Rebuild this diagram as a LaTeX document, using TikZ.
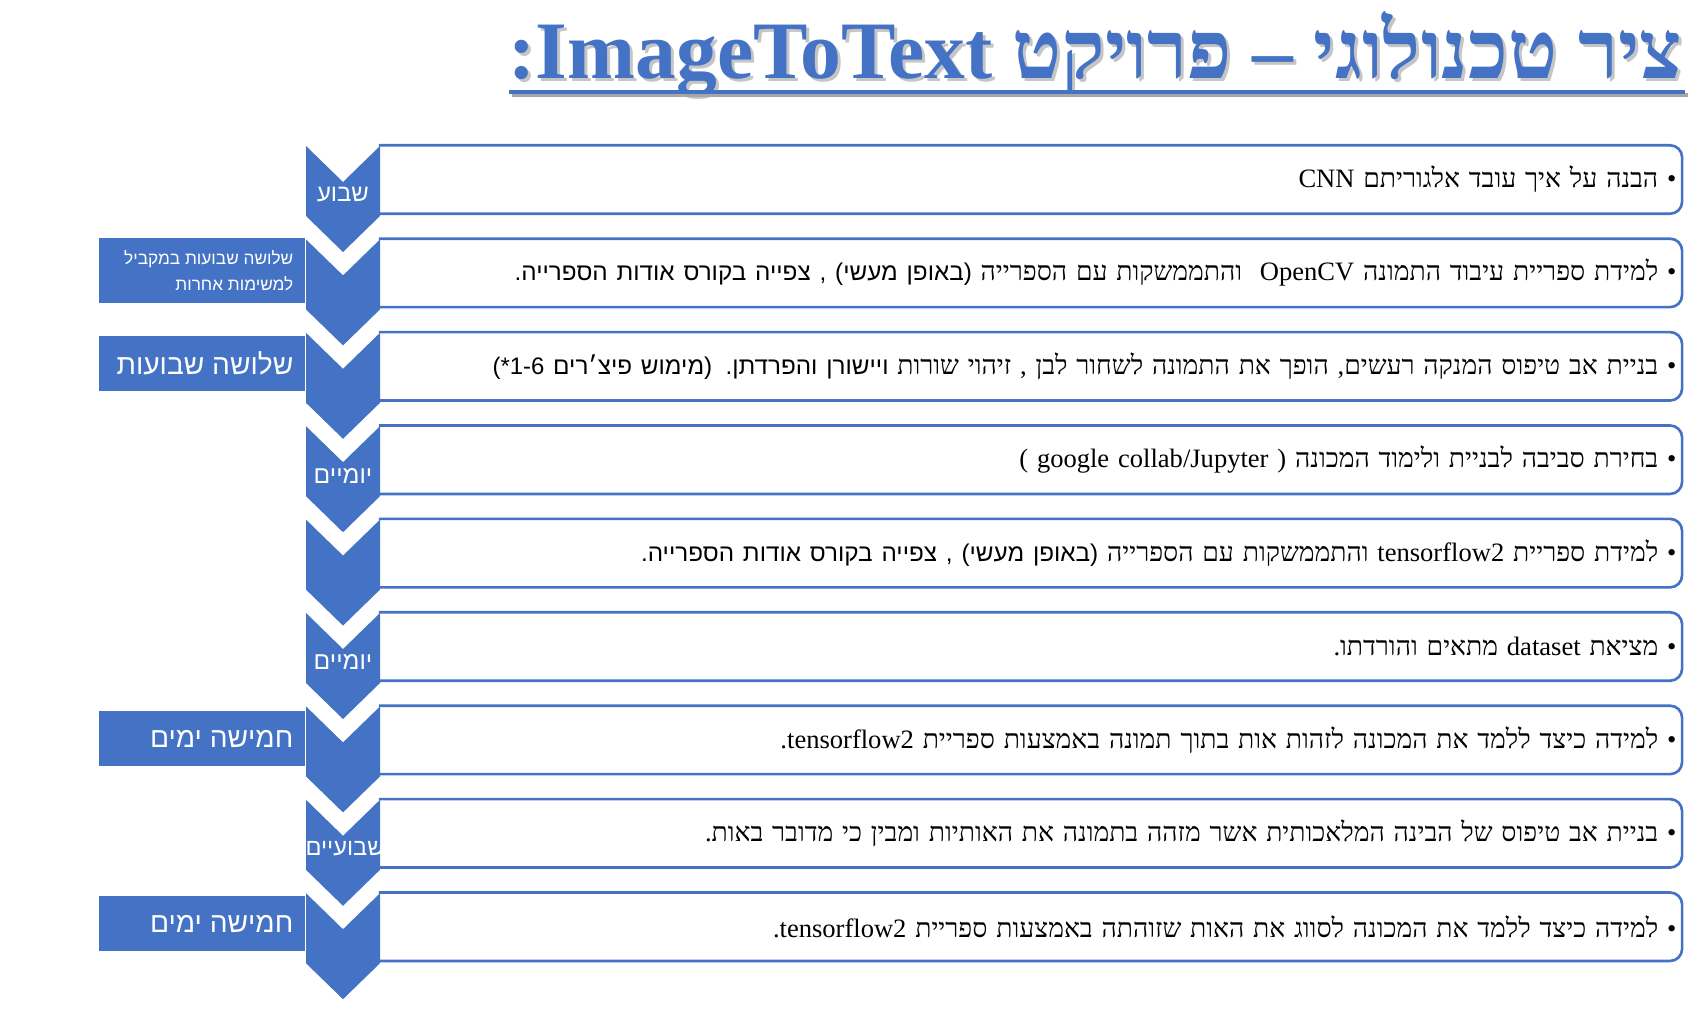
\documentclass[tikz,border=0pt]{standalone}
\usepackage{fontspec}
\setmainfont{Liberation Serif}
\newfontfamily\hebserif[Script=Hebrew]{Liberation Serif}
\newfontfamily\hebsans[Script=Hebrew]{Liberation Sans}
\newfontfamily\latinsans{Liberation Sans}
\usepackage{xcolor}
\usepackage{tikz}
\usetikzlibrary{positioning}
\TeXXeTstate=1
\definecolor{planblue}{RGB}{68,114,196}
\newcommand{\sanspart}{\hebsans\fontsize{6.9}{9}\selectfont}
\newcommand{\sidetext}[1]{\makebox[1.82cm][r]{\beginR #1\endR}}

\begin{document}
\begin{tikzpicture}[
    x=0.01cm, y=-0.01cm,
    rowbox/.style={
        minimum width=13.01cm,
        minimum height=0.67cm,
        text width=12.91cm,
        inner xsep=0.05cm,
        inner ysep=0pt,
        align=right,
        font=\hebserif\fontsize{7.55}{9}\selectfont
    },
    rowline/.style={
        draw=planblue,
        line width=0.75pt,
        rounded corners=0.12cm
    },
    chevron/.pic={
        \fill[planblue] (-37,0) -- (0,36) -- (37,0) -- (37,70) -- (0,106) -- (-37,70) -- cycle;
    },
    chevtext/.style={
        text=white,
        inner sep=0pt,
        font=\hebsans\fontsize{7}{8}\selectfont
    },
    sidebox/.style={
        fill=planblue,
        text=white,
        anchor=east,
        minimum height=0.55cm,
        inner xsep=0.12cm,
        inner ysep=0pt,
        align=right,
        font=\hebsans\fontsize{8}{10}\selectfont
    },
    titletext/.style={
        anchor=base east,
        inner sep=0pt,
        font=\hebserif\bfseries\fontsize{23.2}{28}\selectfont
    }
]

\useasboundingbox (0,0) rectangle (1692,1012);

\node[titletext, text=black!45, opacity=0.5] (titleshadow) at (1686,81) {\beginR ציר טכנולוגי – פרויקט \beginL ImageToText\endL:\endR};

\node[titletext, text=planblue] (title) at (1683,78) {\beginR ציר טכנולוגי – פרויקט \beginL ImageToText\endL:\endR};

\draw[black!35, line width=1.3pt] (512,95) -- (1688,95);
\draw[planblue, line width=1.3pt] (509,92) -- (1685,92);

\node[rowbox] (b0) at (1030.5,179.5) {\beginR • הבנה על איך עובד אלגוריתם CNN\endR};
\node[rowbox] (b1) at (1030.5,272.9) {\beginR • למידת ספריית עיבוד התמונה OpenCV\ \ והתממשקות עם הספרייה {\sanspart (באופן מעשי) , צפייה בקורס אודות הספרייה.}\endR};
\node[rowbox] (b2) at (1030.5,366.3) {\beginR • בניית אב טיפוס המנקה רעשים, הופך את התמונה לשחור לבן , זיהוי שורות {\sanspart ויישורן והפרדתן. (מימוש פיצ׳רים \beginL{\latinsans\fontsize{6.8}{9}\selectfont(*1-6}\endL}\endR};
\node[rowbox] (b3) at (1030.5,459.7) {\beginR • בחירת סביבה לבניית ולימוד המכונה {\rmfamily)} \beginL google collab/Jupyter\endL{} {\rmfamily(}\endR};
\node[rowbox] (b4) at (1030.5,553.1) {\beginR • למידת ספריית tensorflow2 והתממשקות עם הספרייה {\sanspart (באופן מעשי) , צפייה בקורס אודות הספרייה.}\endR};
\node[rowbox] (b5) at (1030.5,646.5) {\beginR • מציאת dataset מתאים והורדתו.\endR};
\node[rowbox] (b6) at (1030.5,739.9) {\beginR • למידה כיצד ללמד את המכונה לזהות אות בתוך תמונה באמצעות ספריית \beginL tensorflow2\endL.\endR};
\node[rowbox] (b7) at (1030.5,833.3) {\beginR • בניית אב טיפוס של הבינה המלאכותית אשר מזהה בתמונה את האותיות ומבין כי מדובר באות.\endR};
\node[rowbox] (b8) at (1030.5,926.7) {\beginR • למידה כיצד ללמד את המכונה לסווג את האות שזוהתה באמצעות ספריית \beginL tensorflow2\endL.\endR};

\foreach \row in {b0,b1,b2,b3,b4,b5,b6,b7,b8}
    \draw[rowline] (\row.north west) -- (\row.north east) -- (\row.south east) -- (\row.south west);

\foreach \top in {146.0,239.4,332.8,426.2,519.6,613.0,706.4,799.8,893.2}
    \pic at (343,\top) {chevron};

\node[chevtext, font=\hebsans\fontsize{6.8}{8}\selectfont] (c0) at (343,195) {\beginR שבוע\endR};
\node[chevtext] (c3) at (343,476) {\beginR יומיים\endR};
\node[chevtext] (c5) at (343,662) {\beginR יומיים\endR};
\node[chevtext, font=\hebsans\fontsize{6.7}{8}\selectfont] (c7) at (345,849) {\beginR שבועיים\endR};

\node[sidebox, minimum height=0.65cm, font=\hebsans\fontsize{4.9}{7.4}\selectfont] (d1) at (306,270.5) {\sidetext{שלושה שבועות במקביל}\\\sidetext{למשימות אחרות}};
\node[sidebox] (d2) at (306,363.5) {\sidetext{שלושה שבועות}};
\node[sidebox] (d6) at (306,738.5) {\sidetext{חמישה ימים}};
\node[sidebox] (d8) at (306,923.5) {\sidetext{חמישה ימים}};

\end{tikzpicture}
\end{document}
